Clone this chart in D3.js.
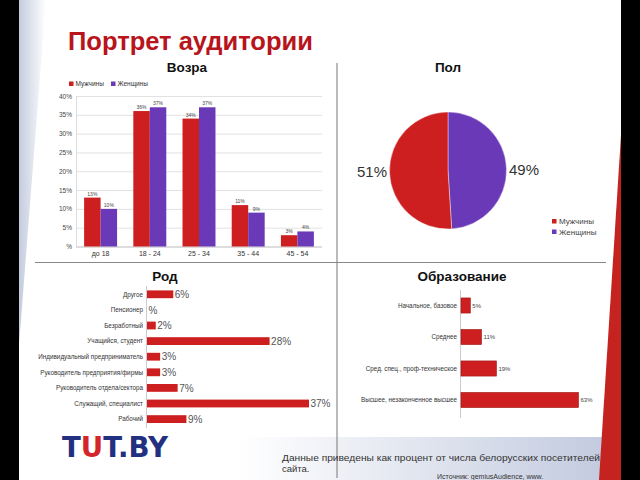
<!DOCTYPE html>
<html><head><meta charset="utf-8">
<script src="https://cdn.jsdelivr.net/npm/d3@7"></script>
<style>body{margin:0;background:#fff}svg{display:block}</style>
</head><body>
<svg id="c" width="640" height="480"></svg>
<script>
// ---- data ----
const ageCategories = ["до 18", "18 - 24", "25 - 34", "35 - 44", "45 - 54"];
const ageMen = [13, 36, 34, 11, 3];
const ageWomen = [10, 37, 37, 9, 4];
const ageTicks = [0, 5, 10, 15, 20, 25, 30, 35, 40];
const seriesNames = ["Мужчины", "Женщины"];
const genderValues = [51, 49];
const occLabels = ["Другое", "Пенсионер", "Безработный", "Учащийся, студент", "Индивидуальный предприниматель", "Руководитель предприятия/фирмы", "Руководитель отдела/сектора", "Служащий, специалист", "Рабочий"];
const occValues = [6, 0, 2, 28, 3, 3, 7, 37, 9];
const eduLabels = ["Начальное, базовое", "Среднее", "Сред. спец., проф-техническое", "Высшее, незаконченное высшее"];
const eduValues = [5, 11, 19, 63];

const RED = "#CD1F1F", PURPLE = "#6A39B7";
const svg = d3.select("#c");
const FONT = "Liberation Sans, Arial, sans-serif";

// ---- background decoration ----
const defs = svg.append("defs");
const g1 = defs.append("linearGradient").attr("id", "lg").attr("x1", 0).attr("x2", 1).attr("y1", 0).attr("y2", 0);
g1.append("stop").attr("offset", "0").attr("stop-color", "#c3cbdd");
g1.append("stop").attr("offset", "1").attr("stop-color", "#ffffff");
const g2 = defs.append("linearGradient").attr("id", "fg").attr("x1", 0).attr("x2", 1).attr("y1", 0).attr("y2", 0);
g2.append("stop").attr("offset", "0").attr("stop-color", "#ffffff");
g2.append("stop").attr("offset", "1").attr("stop-color", "#c2cadf");
svg.append("polygon").attr("points", "19,0 46,0 19,345").attr("fill", "url(#lg)");
svg.append("rect").attr("x", 240).attr("y", 437).attr("width", 370).attr("height", 43).attr("fill", "url(#fg)");
svg.append("rect").attr("x", 0).attr("y", 0).attr("width", 19).attr("height", 480).attr("fill", "#000");
svg.append("rect").attr("x", 621).attr("y", 0).attr("width", 19).attr("height", 480).attr("fill", "#000");
svg.append("polygon").attr("points", "621,135 621,480 599,480").attr("fill", "#C4231F");

// title
svg.append("text").attr("x", 68).attr("y", 50).attr("font-family", FONT).attr("font-weight", "bold")
  .attr("font-size", 25.5).attr("fill", "#B8141C").text("Портрет аудитории");

// dividers
svg.append("line").attr("x1", 337).attr("x2", 337).attr("y1", 63).attr("y2", 478).attr("stroke", "#777").attr("stroke-width", 1);
svg.append("line").attr("x1", 35).attr("x2", 606).attr("y1", 262.5).attr("y2", 262.5).attr("stroke", "#888").attr("stroke-width", 1);

// section titles
const sec = [["Возра", 187, 72], ["Пол", 448, 72], ["Род", 165, 281], ["Образование", 462, 281]];
sec.forEach(s => svg.append("text").attr("x", s[1]).attr("y", s[2]).attr("text-anchor", "middle")
  .attr("font-family", FONT).attr("font-weight", "bold").attr("font-size", 13.5).attr("fill", "#111").text(s[0]));

// ---- age chart ----
const ax = d3.scaleBand().domain(ageCategories).range([76, 322]).paddingInner(0.33).paddingOuter(0.165);
const ax1 = d3.scaleBand().domain(seriesNames).range([0, ax.bandwidth()]);
const ay = d3.scaleLinear().domain([0, 40]).range([246.5, 96]);
const age = svg.append("g");
age.append("g").selectAll("line").data(ageTicks).join("line")
  .attr("x1", 76).attr("x2", 322).attr("y1", d => ay(d) + 0.5).attr("y2", d => ay(d) + 0.5)
  .attr("stroke", d => d === 0 ? "#bbb" : "#e2e2e2");
age.append("line").attr("x1", 76.5).attr("x2", 76.5).attr("y1", 96).attr("y2", 247).attr("stroke", "#ddd");
age.append("g").selectAll("text").data(ageTicks).join("text")
  .attr("x", 72).attr("y", d => ay(d) + 2.5).attr("text-anchor", "end")
  .attr("font-family", FONT).attr("font-size", 6.5).attr("fill", "#444")
  .text(d => d === 0 ? "%" : d + "%");
age.append("g").selectAll("text").data(ageCategories).join("text")
  .attr("x", d => ax(d) + ax.bandwidth() / 2).attr("y", 256).attr("text-anchor", "middle")
  .attr("font-family", FONT).attr("font-size", 7).attr("fill", "#333").text(d => d);
const ageSeries = [ageMen, ageWomen];
const ageColors = [RED, PURPLE];
ageSeries.forEach((vals, si) => {
  const gs = age.append("g");
  gs.selectAll("rect").data(vals).join("rect")
    .attr("x", (d, i) => ax(ageCategories[i]) + ax1(seriesNames[si]))
    .attr("width", ax1.bandwidth())
    .attr("y", d => ay(d)).attr("height", d => ay(0) - ay(d))
    .attr("fill", ageColors[si]);
  gs.selectAll("text").data(vals).join("text")
    .attr("x", (d, i) => ax(ageCategories[i]) + ax1(seriesNames[si]) + ax1.bandwidth() / 2)
    .attr("y", d => ay(d) - 2).attr("text-anchor", "middle")
    .attr("font-family", FONT).attr("font-size", 5).attr("fill", "#444").text(d => d + "%");
});
// age legend
const alg = age.append("g");
seriesNames.forEach((n, i) => {
  const x0 = i === 0 ? 69 : 111;
  alg.append("rect").attr("x", x0).attr("y", 81.5).attr("width", 4.5).attr("height", 4.5).attr("fill", ageColors[i]);
  alg.append("text").attr("x", x0 + 6.5).attr("y", 86).attr("font-family", FONT).attr("font-size", 6.5).attr("fill", "#333").text(n);
});

// ---- pie ----
const pie = d3.pie().sort(null).startAngle(0).endAngle(2 * Math.PI);
const pieData = pie([genderValues[1], genderValues[0]]); // women starts at top clockwise
const arc = d3.arc().innerRadius(0).outerRadius(58.5);
const pg = svg.append("g").attr("transform", "translate(448,170.5)");
pg.selectAll("path").data(pieData).join("path").attr("d", arc)
  .attr("fill", (d, i) => i === 0 ? PURPLE : RED).attr("stroke", "#fff").attr("stroke-width", 0.4);
svg.append("text").attr("x", 372).attr("y", 177).attr("text-anchor", "middle").attr("font-family", FONT)
  .attr("font-size", 15).attr("fill", "#333").text(genderValues[0] + "%");
svg.append("text").attr("x", 524).attr("y", 175).attr("text-anchor", "middle").attr("font-family", FONT)
  .attr("font-size", 15).attr("fill", "#333").text(genderValues[1] + "%");
seriesNames.forEach((n, i) => {
  svg.append("rect").attr("x", 552).attr("y", 219 + i * 10.5).attr("width", 4.5).attr("height", 4.5).attr("fill", ageColors[i]);
  svg.append("text").attr("x", 559).attr("y", 224 + i * 10.5).attr("font-family", FONT).attr("font-size", 8).attr("fill", "#444").text(n);
});

// ---- occupation chart ----
const oy = d3.scaleBand().domain(occLabels).range([286.5, 426.9]).paddingInner(0.5).paddingOuter(0.25);
const ox = d3.scaleLinear().domain([0, 37]).range([147, 309]);
const og = svg.append("g");
og.append("line").attr("x1", 146.5).attr("x2", 146.5).attr("y1", 286).attr("y2", 428).attr("stroke", "#ccc");
og.selectAll("rect").data(occValues).join("rect")
  .attr("x", ox(0)).attr("y", (d, i) => oy(occLabels[i]))
  .attr("width", d => ox(d) - ox(0)).attr("height", oy.bandwidth()).attr("fill", RED);
og.selectAll("text.l").data(occLabels).join("text").attr("class", "l")
  .attr("x", 143).attr("y", d => oy(d) + oy.bandwidth() / 2 + 2.3).attr("text-anchor", "end")
  .attr("font-family", FONT).attr("font-size", 6.3).attr("fill", "#333").text(d => d);
og.selectAll("text.v").data(occValues).join("text").attr("class", "v")
  .attr("x", d => ox(d) + 1.5).attr("y", (d, i) => oy(occLabels[i]) + oy.bandwidth() / 2 + 3.6)
  .attr("font-family", FONT).attr("font-size", 10).attr("fill", "#555").text(d => d === 0 ? "%" : d + "%");

// ---- education chart ----
const ey = d3.scaleBand().domain(eduLabels).range([289.75, 415.75]).paddingInner(0.52).paddingOuter(0.26);
const ex = d3.scaleLinear().domain([0, 63]).range([461, 578.5]);
const eg = svg.append("g");
eg.append("line").attr("x1", 460.5).attr("x2", 460.5).attr("y1", 290).attr("y2", 418).attr("stroke", "#ccc");
eg.selectAll("rect").data(eduValues).join("rect")
  .attr("x", ex(0)).attr("y", (d, i) => ey(eduLabels[i]))
  .attr("width", d => ex(d) - ex(0)).attr("height", ey.bandwidth())
  .attr("fill", RED).attr("stroke", "#a01515").attr("stroke-width", 0.6);
eg.selectAll("text.l").data(eduLabels).join("text").attr("class", "l")
  .attr("x", 457).attr("y", d => ey(d) + ey.bandwidth() / 2 + 2.2).attr("text-anchor", "end")
  .attr("font-family", FONT).attr("font-size", 6.3).attr("fill", "#333").text(d => d);
eg.selectAll("text.v").data(eduValues).join("text").attr("class", "v")
  .attr("x", d => ex(d) + 2).attr("y", (d, i) => ey(eduLabels[i]) + ey.bandwidth() / 2 + 2.2)
  .attr("font-family", FONT).attr("font-size", 6).attr("fill", "#444").text(d => d + "%");

// ---- footer ----
const logo = svg.append("text").attr("x", 62).attr("y", 457).attr("font-family", "DejaVu Sans, sans-serif")
  .attr("font-weight", "bold").attr("font-size", 29).attr("textLength", 106).attr("lengthAdjust", "spacingAndGlyphs");
logo.append("tspan").attr("fill", "#23307F").text("T");
logo.append("tspan").attr("fill", "#D4262A").text("U");
logo.append("tspan").attr("fill", "#23307F").text("T.BY");
svg.append("text").attr("x", 282).attr("y", 461).attr("font-family", FONT).attr("font-size", 9.5).attr("fill", "#333")
  .attr("textLength", 318).attr("lengthAdjust", "spacingAndGlyphs")
  .text("Данные приведены как процент от числа белорусских посетителей");
svg.append("text").attr("x", 282).attr("y", 472).attr("font-family", FONT).attr("font-size", 9.5).attr("fill", "#333").text("сайта.");
svg.append("text").attr("x", 437).attr("y", 479).attr("font-family", FONT).attr("font-size", 7).attr("fill", "#333").text("Источник: gemiusAudience, www.");
</script>
</body></html>
